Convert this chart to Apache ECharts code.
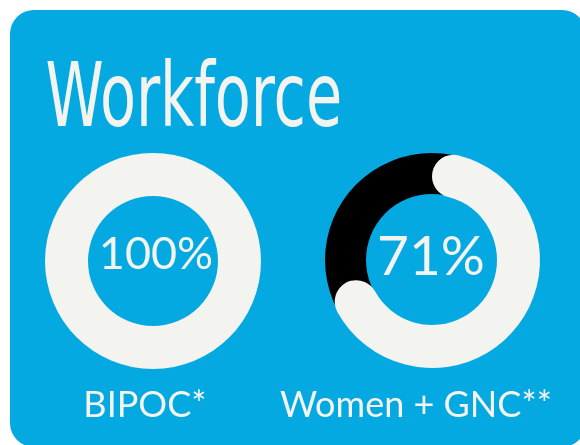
<!DOCTYPE html>
<html>
<head>
<meta charset="utf-8">
<script src="https://cdn.jsdelivr.net/npm/echarts@6/dist/echarts.min.js"></script>
<style>
html,body{margin:0;padding:0;background:#ffffff;}
#chart{width:580px;height:445px;}
</style>
</head>
<body>
<div id="chart"></div>
<script>
// ---- data ----
const titleText = 'Workforce';
const categories = ['BIPOC*', 'Women + GNC**'];
const percentValues = [100, 71];
const percentLabels = ['100%', '71%'];

// ---- styling ----
const BLUE = '#03A9E0';
const LIGHT = '#F3F4EF';
const DARK = '#000000';
const centers = [[153, 261], [432, 260]];
const labelFontSizes = [45, 55];
const labelCenters = [[156, 254], [431, 257]];
const catCenters = [[145, 405], [416, 405]];

const chart = echarts.init(document.getElementById('chart'), null, {renderer: 'canvas'});

const series = [];
percentValues.forEach(function (v, i) {
  if (v < 100) {
    series.push({
      type: 'pie', silent: true, center: centers[i], radius: [66, 107],
      label: {show: false}, labelLine: {show: false}, animation: false,
      data: [{value: 100, itemStyle: {color: DARK}}]
    });
  }
  series.push({
    type: 'pie', silent: true, center: centers[i], radius: [65, 108],
    startAngle: 90, clockwise: true, animation: false,
    label: {show: false}, labelLine: {show: false},
    itemStyle: {borderRadius: v < 100 ? 22 : 0},
    data: [
      {value: v, itemStyle: {color: LIGHT}},
      {value: 100 - v, itemStyle: {color: 'rgba(0,0,0,0)'}}
    ]
  });
});

const graphics = [
  {type: 'rect', z: -10, shape: {x: 10, y: 10, width: 576, height: 437, r: 24}, style: {fill: BLUE}},
  {type: 'text', x: 36, y: 103, scaleX: 0.735, scaleY: 1.0, originX: 36, originY: 103,
   style: {text: titleText, fill: LIGHT, font: 'normal 89px "DejaVu Sans Condensed", "DejaVu Sans", sans-serif',
           textAlign: 'left', textVerticalAlign: 'middle'}}
];
categories.forEach(function (c, i) {
  graphics.push({type: 'text', x: catCenters[i][0], y: catCenters[i][1],
    style: {text: c, fill: LIGHT, font: 'normal 36px Lato, "Open Sans", sans-serif',
            textAlign: 'center', textVerticalAlign: 'middle'}});
  graphics.push({type: 'text', x: labelCenters[i][0], y: labelCenters[i][1],
    style: {text: percentLabels[i], fill: LIGHT, font: 'normal ' + labelFontSizes[i] + 'px Lato, "Open Sans", sans-serif',
            textAlign: 'center', textVerticalAlign: 'middle'}});
});

chart.setOption({
  backgroundColor: '#ffffff',
  animation: false,
  graphic: graphics,
  series: series
});
</script>
</body>
</html>
